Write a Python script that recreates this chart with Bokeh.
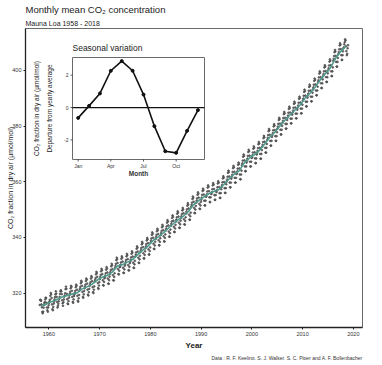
import numpy as np
from bokeh.plotting import figure
from bokeh.models import Range1d, Title
from bokeh.embed import file_html
from bokeh.resources import INLINE
from bokeh.core.properties import value

# ---------------- data ----------------
first_year = 1958
first_month = 3  # record starts March 1958

co2_1958_1959 = [315.7, 317.5, 317.5, 317.2, 315.9, 314.9, 313.2, 312.7, 313.3, 314.7,
                 315.6, 316.4, 316.7, 317.7, 318.3, 318.2, 316.5, 314.8, 313.8, 313.3, 314.8, 315.6]
co2_1960s = [316.4, 317.0, 317.6, 319.0, 320.0, 319.6, 318.2, 315.9, 314.2, 313.8, 315.0, 316.2,
             316.9, 317.7, 318.5, 319.5, 320.6, 319.8, 318.6, 316.8, 314.8, 315.4, 316.1, 317.0,
             317.9, 318.6, 319.7, 320.6, 321.0, 320.6, 319.6, 317.4, 316.3, 315.4, 316.7, 317.7,
             318.7, 319.1, 319.9, 321.4, 322.3, 321.5, 319.7, 317.8, 316.2, 316.0, 317.1, 318.3,
             319.1, 319.7, 320.4, 321.7, 322.6, 322.2, 320.8, 318.6, 316.8, 316.5, 317.7, 318.9,
             319.5, 320.1, 320.8, 322.1, 323.0, 322.6, 321.2, 319.0, 317.2, 316.9, 318.1, 319.3,
             320.9, 321.5, 322.2, 323.5, 324.4, 324.0, 322.6, 320.4, 318.6, 318.3, 319.5, 320.7,
             321.7, 322.3, 323.0, 324.3, 325.2, 324.8, 323.4, 321.2, 319.4, 319.1, 320.3, 321.5,
             322.6, 323.2, 323.9, 325.2, 326.1, 325.7, 324.3, 322.1, 320.3, 320.0, 321.2, 322.4,
             324.1, 324.7, 325.4, 326.7, 327.6, 327.2, 325.8, 323.6, 321.8, 321.5, 322.7, 323.9]
co2_1970s = [325.0, 325.7, 326.5, 327.8, 328.7, 328.2, 326.8, 324.6, 322.8, 322.7, 324.0, 325.3,
             325.6, 326.3, 327.1, 328.4, 329.3, 328.8, 327.4, 325.2, 323.4, 323.3, 324.6, 325.9,
             326.8, 327.5, 328.3, 329.6, 330.5, 330.0, 328.6, 326.4, 324.6, 324.5, 325.8, 327.1,
             329.0, 329.7, 330.5, 331.8, 332.7, 332.2, 330.8, 328.6, 326.8, 326.7, 328.0, 329.3,
             329.5, 330.2, 331.0, 332.3, 333.2, 332.7, 331.3, 329.1, 327.3, 327.2, 328.5, 329.8,
             330.4, 331.1, 331.9, 333.2, 334.1, 333.6, 332.2, 330.0, 328.2, 328.1, 329.4, 330.7,
             331.3, 332.0, 332.8, 334.1, 335.0, 334.5, 333.1, 330.9, 329.1, 329.0, 330.3, 331.6,
             333.1, 333.8, 334.6, 335.9, 336.8, 336.3, 334.9, 332.7, 330.9, 330.8, 332.1, 333.4,
             334.7, 335.4, 336.2, 337.5, 338.4, 337.9, 336.5, 334.3, 332.5, 332.4, 333.7, 335.0,
             336.1, 336.8, 337.6, 338.9, 339.8, 339.3, 337.9, 335.7, 333.9, 333.8, 335.1, 336.4]
co2_1980s = [338.1, 338.8, 339.6, 340.9, 341.8, 341.3, 339.9, 337.7, 335.9, 335.8, 337.1, 338.4,
             339.4, 340.1, 340.9, 342.2, 343.1, 342.6, 341.2, 339.0, 337.2, 337.1, 338.4, 339.7,
             340.8, 341.5, 342.3, 343.6, 344.5, 344.0, 342.6, 340.4, 338.6, 338.5, 339.8, 341.1,
             342.5, 343.2, 344.0, 345.3, 346.2, 345.7, 344.3, 342.1, 340.3, 340.2, 341.5, 342.8,
             344.2, 344.9, 345.7, 347.0, 347.9, 347.4, 346.0, 343.8, 342.0, 341.9, 343.2, 344.5,
             345.7, 346.4, 347.2, 348.5, 349.4, 348.9, 347.5, 345.3, 343.5, 343.4, 344.7, 346.0,
             346.9, 347.6, 348.4, 349.7, 350.6, 350.1, 348.7, 346.5, 344.7, 344.6, 345.9, 347.2,
             348.6, 349.3, 350.1, 351.4, 352.3, 351.8, 350.4, 348.2, 346.4, 346.3, 347.6, 348.9,
             351.0, 351.7, 352.5, 353.8, 354.7, 354.2, 352.8, 350.6, 348.8, 348.7, 350.0, 351.3,
             352.5, 353.2, 354.0, 355.3, 356.2, 355.7, 354.3, 352.1, 350.3, 350.2, 351.5, 352.8]
co2_1990s = [353.6, 354.3, 355.3, 356.7, 357.5, 357.0, 355.4, 353.2, 351.5, 351.5, 353.2, 354.6,
             354.8, 355.5, 356.5, 357.9, 358.7, 358.2, 356.6, 354.4, 352.7, 352.7, 354.4, 355.8,
             355.6, 356.3, 357.3, 358.7, 359.5, 359.0, 357.4, 355.2, 353.5, 353.5, 355.2, 356.6,
             356.3, 357.0, 358.0, 359.4, 360.2, 359.7, 358.1, 355.9, 354.2, 354.2, 355.9, 357.3,
             358.1, 358.8, 359.8, 361.2, 362.0, 361.5, 359.9, 357.7, 356.0, 356.0, 357.7, 359.1,
             360.1, 360.8, 361.8, 363.2, 364.0, 363.5, 361.9, 359.7, 358.0, 358.0, 359.7, 361.1,
             361.8, 362.5, 363.5, 364.9, 365.7, 365.2, 363.6, 361.4, 359.7, 359.7, 361.4, 362.8,
             363.0, 363.7, 364.7, 366.1, 366.9, 366.4, 364.8, 362.6, 360.9, 360.9, 362.6, 364.0,
             365.9, 366.6, 367.6, 369.0, 369.8, 369.3, 367.7, 365.5, 363.8, 363.8, 365.5, 366.9,
             367.6, 368.3, 369.3, 370.7, 371.5, 371.0, 369.4, 367.2, 365.5, 365.5, 367.2, 368.6]
co2_2000s = [368.8, 369.5, 370.5, 371.9, 372.7, 372.2, 370.6, 368.4, 366.7, 366.7, 368.4, 369.8,
             370.4, 371.1, 372.1, 373.5, 374.3, 373.8, 372.2, 370.0, 368.3, 368.3, 370.0, 371.4,
             372.6, 373.3, 374.3, 375.7, 376.5, 376.0, 374.4, 372.2, 370.5, 370.5, 372.2, 373.6,
             375.1, 375.8, 376.8, 378.2, 379.0, 378.5, 376.9, 374.7, 373.0, 373.0, 374.7, 376.1,
             376.8, 377.5, 378.5, 379.9, 380.7, 380.2, 378.6, 376.4, 374.7, 374.7, 376.4, 377.8,
             379.1, 379.8, 380.8, 382.2, 383.0, 382.5, 380.9, 378.7, 377.0, 377.0, 378.7, 380.1,
             381.2, 381.9, 382.9, 384.3, 385.1, 384.6, 383.0, 380.8, 379.1, 379.1, 380.8, 382.2,
             383.1, 383.8, 384.8, 386.2, 387.0, 386.5, 384.9, 382.7, 381.0, 381.0, 382.7, 384.1,
             384.9, 385.6, 386.6, 388.0, 388.8, 388.3, 386.7, 384.5, 382.8, 382.8, 384.5, 385.9,
             386.7, 387.4, 388.4, 389.8, 390.6, 390.1, 388.5, 386.3, 384.6, 384.6, 386.3, 387.7]
co2_2010s = [389.2, 389.9, 390.9, 392.3, 393.1, 392.6, 391.0, 388.8, 387.1, 387.1, 388.8, 390.2,
             391.0, 391.7, 392.7, 394.1, 394.9, 394.4, 392.8, 390.6, 388.9, 388.9, 390.6, 392.0,
             393.2, 393.9, 394.9, 396.3, 397.1, 396.6, 395.0, 392.8, 391.1, 391.1, 392.8, 394.2,
             395.8, 396.5, 397.5, 398.9, 399.7, 399.2, 397.6, 395.4, 393.7, 393.7, 395.4, 396.8,
             398.0, 398.7, 399.7, 401.1, 401.9, 401.4, 399.8, 397.6, 395.9, 395.9, 397.6, 399.0,
             400.1, 400.8, 401.8, 403.2, 404.0, 403.5, 401.9, 399.7, 398.0, 398.0, 399.7, 401.1,
             403.5, 404.2, 405.2, 406.6, 407.4, 406.9, 405.3, 403.1, 401.4, 401.4, 403.1, 404.5,
             405.9, 406.6, 407.6, 409.0, 409.8, 409.3, 407.7, 405.5, 403.8, 403.8, 405.5, 406.9,
             408.0, 408.3, 409.4, 410.2, 411.2, 410.8, 408.7, 407.0, 405.5, 406.0, 408.0, 409.1]

trend_years = list(range(1958, 2019))
trend_ppm = [315.3, 316.0, 316.9, 317.6, 318.5, 319.0, 319.6, 320.0, 321.4, 322.2,
             323.1, 324.6, 325.7, 326.3, 327.5, 329.7, 330.2, 331.1, 332.0, 333.8,
             335.4, 336.8, 338.8, 340.1, 341.5, 343.2, 344.9, 346.4, 347.6, 349.3,
             351.7, 353.2, 354.5, 355.7, 356.5, 357.2, 359.0, 361.0, 362.7, 363.9,
             366.8, 368.5, 369.7, 371.3, 373.5, 376.0, 377.7, 380.0, 382.1, 384.0,
             385.8, 387.6, 390.1, 391.9, 394.1, 396.7, 398.9, 401.0, 404.4, 406.8, 408.7]

season_month = [1, 2, 3, 4, 5, 6, 7, 8, 9, 10, 11, 12]
season_dev = [-0.64, 0.10, 0.87, 2.27, 2.87, 2.27, 0.80, -1.15, -2.70, -2.80, -1.44, -0.16]

year_ticks = [1960, 1970, 1980, 1990, 2000, 2010, 2020]
ppm_ticks = [320, 340, 360, 380, 400]
month_ticks = [1, 4, 7, 10]
month_tick_labels = ["Jan", "Apr", "Jul", "Oct"]
dev_ticks = [-2, 0, 2]
dev_tick_labels = ["-2", "0", "2"]

title_text = "Monthly mean CO\u2082 concentration"
subtitle_text = "Mauna Loa 1958 - 2018"
ylabel_text = "CO\u2082 fraction in dry air (\u00b5mol/mol)"
xlabel_text = "Year"
source_text = "Data : R. F. Keeling, S. J. Walker, S. C. Piper and A. F. Bollenbacher"
inset_title = "Seasonal variation"
inset_xlabel = "Month"
inset_ylabel1 = "CO\u2082 fraction in dry air (\u00b5mol/mol)"
inset_ylabel2 = "Departure from yearly average"

# ---------------- derived ----------------
monthly = co2_1958_1959 + co2_1960s + co2_1970s + co2_1980s + co2_1990s + co2_2000s + co2_2010s
idx = np.arange(len(monthly)) + (first_month - 1)
dec_date = first_year + (idx + 0.5) / 12.0
trend_x = np.array(trend_years) + 0.5

FONTNAME = "Liberation Sans"
FONT = value(FONTNAME)

# layout (pixels)
FW, FH = 337, 299
p = figure(frame_width=FW, frame_height=FH, output_backend="svg", toolbar_location=None,
           x_range=Range1d(1955.4, 2021.8), y_range=Range1d(307.6, 415.1),
           min_border_left=25, min_border_right=4, min_border_top=24, min_border_bottom=26,
           title=title_text)
p.background_fill_color = "white"
p.border_fill_color = "white"
p.outline_line_color = "#6a6a6a"
p.outline_line_width = 1
p.xgrid.visible = False
p.ygrid.visible = False

# main title (outer) and subtitle (closest to the frame)
p.title.text_font = FONTNAME
p.title.text_font_size = "9.5px"
p.title.text_font_style = "normal"
p.title.text_color = "#222222"
p.title.align = "left"
p.title.standoff = 2
p.add_layout(Title(text=subtitle_text, text_font=FONTNAME, text_font_size="7px",
                   text_font_style="normal", text_color="#222222", align="left",
                   standoff=4), "above")

for ax in (p.xaxis, p.yaxis):
    ax.major_tick_in = 0
    ax.major_tick_out = 2
    ax.minor_tick_line_color = None
    ax.major_label_standoff = 2
    ax.major_label_text_font = FONTNAME
    ax.major_label_text_font_size = "5.5px"
    ax.major_label_text_color = "#333333"
    ax.axis_line_color = "#222222"
    ax.axis_line_width = 1.3
    ax.major_tick_line_color = "#222222"
    ax.axis_label_text_font = FONTNAME
    ax.axis_label_text_color = "#222222"

p.xaxis.ticker = year_ticks
p.yaxis.ticker = ppm_ticks
p.xaxis.axis_label = xlabel_text
p.xaxis.axis_label_text_font_size = "8px"
p.xaxis.axis_label_text_font_style = "bold"
p.xaxis.axis_label_standoff = 2
p.yaxis.axis_label = ylabel_text
p.yaxis.axis_label_text_font_size = "7px"
p.yaxis.axis_label_text_font_style = "normal"
p.yaxis.axis_label_standoff = -5

# source note under the x axis
p.add_layout(Title(text=source_text, text_font=FONTNAME, text_font_size="5px",
                   text_font_style="normal", text_color="#333333", align="right",
                   standoff=0), "below")

# main data
p.scatter(dec_date, monthly, size=1.7, color="#505050", alpha=0.85)
p.line(trend_x, trend_ppm, line_color="#4f9a8c", line_width=1.6)

# ---------------- inset (own scales inside the main frame) ----------------
IL, IR, IT, IB = 47, 179, 29, 131      # inset box, px from frame left/top
mx0, mx1 = 0.48, 12.6                  # inset box month domain
my0, my1 = -3.21, 3.09                 # inset box departure domain
ppx = (IR - IL) / (mx1 - mx0)
ppy = (IB - IT) / (my1 - my0)
p.extra_x_ranges = {"mx": Range1d(mx0 - IL / ppx, mx1 + (FW - IR) / ppx)}
p.extra_y_ranges = {"my": Range1d(my0 - (FH - IB) / ppy, my1 + IT / ppy)}
ins = dict(x_range_name="mx", y_range_name="my")

p.quad(left=[mx0], right=[mx1], bottom=[my0], top=[my1], fill_color="white",
       line_color="#6a6a6a", line_width=1, **ins)
p.segment(x0=[mx0], x1=[mx1], y0=[0], y1=[0], line_color="#111111", line_width=1.3, **ins)
p.line(season_month, season_dev, line_color="#111111", line_width=1.6, line_join="round", **ins)
p.scatter(season_month, season_dev, size=3, color="#111111", **ins)

# inset ticks
tk = 2.0
p.segment(x0=month_ticks, x1=month_ticks, y0=[my0] * 4, y1=[my0 - tk / ppy] * 4,
          line_color="#333333", line_width=0.8, **ins)
p.text(x=month_ticks, y=[my0 - 6 / ppy] * 4, text=month_tick_labels, text_font=FONT,
       text_font_size="5px", text_align="center", text_baseline="middle",
       text_color="#333333", **ins)
p.segment(x0=[mx0] * 3, x1=[mx0 - tk / ppx] * 3, y0=dev_ticks, y1=dev_ticks,
          line_color="#333333", line_width=0.8, **ins)
p.text(x=[mx0 - 4 / ppx] * 3, y=dev_ticks, text=dev_tick_labels, text_font=FONT,
       text_font_size="5px", text_align="right", text_baseline="middle",
       text_color="#333333", **ins)
p.text(x=[(mx0 + mx1) / 2], y=[my0 - 14 / ppy], text=[inset_xlabel], text_font=FONT,
       text_font_size="6.5px", text_font_style="bold", text_align="center",
       text_baseline="middle", text_color="#333333", **ins)
p.text(x=[mx0], y=[my1 + 10 / ppy], text=[inset_title], text_font=FONT,
       text_font_size="8.5px", text_align="left", text_baseline="middle",
       text_color="#222222", **ins)
ymid = (my0 + my1) / 2
p.text(x=[mx0 - 36 / ppx, mx0 - 23 / ppx], y=[ymid, ymid], text=[inset_ylabel1, inset_ylabel2],
       text_font=FONT, text_font_size="6.5px", text_align="center", text_baseline="middle",
       angle=np.pi / 2, text_color="#222222", **ins)

open("out.html", "w").write(file_html(p, INLINE))
